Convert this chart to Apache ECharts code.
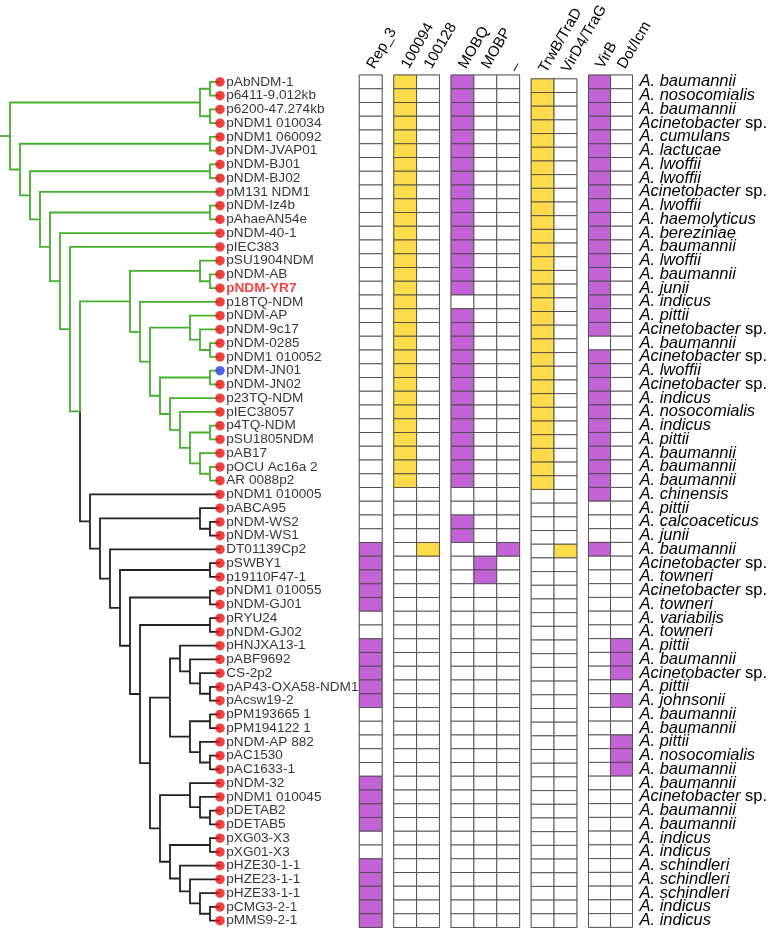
<!DOCTYPE html>
<html><head><meta charset="utf-8">
<script src="https://cdn.jsdelivr.net/npm/echarts@6/dist/echarts.min.js"></script>
<style>html,body{margin:0;padding:0;background:#fff}#c{width:770px;height:929px}</style>
</head><body><div id="c"></div>
<script>
// ---------- data ----------
const tipNames = ['pAbNDM-1','p6411-9.012kb','p6200-47.274kb','pNDM1 010034','pNDM1 060092','pNDM-JVAP01','pNDM-BJ01','pNDM-BJ02','pM131 NDM1','pNDM-Iz4b','pAhaeAN54e','pNDM-40-1','pIEC383','pSU1904NDM','pNDM-AB','pNDM-YR7','p18TQ-NDM','pNDM-AP','pNDM-9c17','pNDM-0285','pNDM1 010052','pNDM-JN01','pNDM-JN02','p23TQ-NDM','pIEC38057','p4TQ-NDM','pSU1805NDM','pAB17','pOCU Ac16a 2','AR 0088p2','pNDM1 010005','pABCA95','pNDM-WS2','pNDM-WS1','DT01139Cp2','pSWBY1','p19110F47-1','pNDM1 010055','pNDM-GJ01','pRYU24','pNDM-GJ02','pHNJXA13-1','pABF9692','CS-2p2','pAP43-OXA58-NDM1','pAcsw19-2','pPM193665 1','pPM194122 1','pNDM-AP 882','pAC1530','pAC1633-1','pNDM-32','pNDM1 010045','pDETAB2','pDETAB5','pXG03-X3','pXG01-X3','pHZE30-1-1','pHZE23-1-1','pHZE33-1-1','pCMG3-2-1','pMMS9-2-1'];
const species = ['A. baumannii','A. nosocomialis','A. baumannii','Acinetobacter sp.','A. cumulans','A. lactucae','A. lwoffii','A. lwoffii','Acinetobacter sp.','A. lwoffii','A. haemolyticus','A. bereziniae','A. baumannii','A. lwoffii','A. baumannii','A. junii','A. indicus','A. pittii','Acinetobacter sp.','A. baumannii','Acinetobacter sp.','A. lwoffii','Acinetobacter sp.','A. indicus','A. nosocomialis','A. indicus','A. pittii','A. baumannii','A. baumannii','A. baumannii','A. chinensis','A. pittii','A. calcoaceticus','A. junii','A. baumannii','Acinetobacter sp.','A. towneri','Acinetobacter sp.','A. towneri','A. variabilis','A. towneri','A. pittii','A. baumannii','Acinetobacter sp.','A. pittii','A. johnsonii','A. baumannii','A. baumannii','A. pittii','A. nosocomialis','A. baumannii','A. baumannii','Acinetobacter sp.','A. baumannii','A. baumannii','A. indicus','A. indicus','A. schindleri','A. schindleri','A. schindleri','A. indicus','A. indicus'];
const highlightTip = 'pNDM-YR7';
const blueTip = 'pNDM-JN01';

// tree topology (tips are row numbers)
const cladeC42 = [42,[43,[44,[45,46]]]];
const cladeB7 = [cladeC42, [[47,48],[49,[50,51]]]];
const cladeC52 = [52,[53,[54,55]]];
const cladeC56 = [[56,57],[58,[59,[60,[61,62]]]]];
const cladeB6 = [cladeB7, [cladeC52, cladeC56]];
const blackClade = [31, [[32,[33,34]], [35, [[36,37], [[38,39], [[40,41], cladeB6]]]]]];
const greenSub = [[14,[15,16]], [17, [[18,[19,[20,21]]], [[22,23], [24, [25, [[26,27], [28,[29,30]]]]]]]]];
const treeRoot = [[[1,2],[3,4]], [[5,6], [[7,8], [9, [[10,11], [12, [13, [greenSub, blackClade]]]]]]]];

// heatmap columns and presence (row numbers)
const columns = ['Rep_3','100094','100128','MOBQ','MOBP','_','TrwB/TraD','VirD4/TraG','VirB','Dot/Icm'];
const columnGroups = [['Rep_3'],['100094','100128'],['MOBQ','MOBP','_'],['TrwB/TraD','VirD4/TraG'],['VirB','Dot/Icm']];
const yellowColumns = ['100094','100128','TrwB/TraD','VirD4/TraG'];
const rowsRep3 = [35,36,37,38,39,42,43,44,45,46,52,53,54,55,58,59,60,61,62];
const rows100094 = [1,2,3,4,5,6,7,8,9,10,11,12,13,14,15,16,17,18,19,20,21,22,23,24,25,26,27,28,29,30];
const rows100128 = [35];
const rowsMOBQ = [1,2,3,4,5,6,7,8,9,10,11,12,13,14,15,16,18,19,20,21,22,23,24,25,26,27,28,29,30,33,34];
const rowsMOBP = [36,37];
const rowsUnderscore = [35];
const rowsTrwB = [1,2,3,4,5,6,7,8,9,10,11,12,13,14,15,16,17,18,19,20,21,22,23,24,25,26,27,28,29,30];
const rowsVirD4 = [35];
const rowsVirB = [1,2,3,4,5,6,7,8,9,10,11,12,13,14,15,16,17,18,19,21,22,23,24,25,26,27,28,29,30,31,35];
const rowsDotIcm = [42,43,44,46,49,50,51];
const presence = {'Rep_3':rowsRep3,'100094':rows100094,'100128':rows100128,'MOBQ':rowsMOBQ,'MOBP':rowsMOBP,'_':rowsUnderscore,'TrwB/TraD':rowsTrwB,'VirD4/TraG':rowsVirD4,'VirB':rowsVirB,'Dot/Icm':rowsDotIcm};

// ---------- style / layout ----------
const FONT = 'Liberation Sans, Arial, sans-serif';
const GREEN = '#44b02c', BLACK = '#222', RED = '#ee1111', BLUE = '#2b3be6';
const YELLOW = '#fedb4a', PURPLE = '#c462d8';
const TOP = 75, HEIGHT = 852.5;
const TREE_W = 220;
const HM_LEFT = 359.3, CELL_W = 22.85, GAP = 11.6;

// ---------- tree layout ----------
const edges = [];
function layout(node, color) {
  if (typeof node === 'number') return {h: 0, y: node - 1, color};
  const kids = node.map(ch => layout(ch, ch === blackClade ? 'black' : color));
  const h = Math.max(...kids.map(k => k.h)) + 1;
  const y = kids.reduce((s, k) => s + k.y, 0) / kids.length;
  kids.forEach(k => edges.push([h, y, k.h, k.y, k.color === 'black' ? 1 : 0]));
  return {h, y, color};
}
const root = layout(treeRoot, 'green');
const xMax = root.h + 1;
edges.push([xMax, root.y, root.h, root.y, 0]);

const nRows = tipNames.length;
const rowCats = tipNames.map((_, i) => String(i));

const grids = [{left: 0, top: TOP, width: TREE_W, height: HEIGHT}];
const xAxes = [{gridIndex: 0, type: 'value', inverse: true, min: 0, max: xMax, show: false}];
const yAxes = [{gridIndex: 0, type: 'value', inverse: true, min: -0.5, max: nRows - 0.5, show: false}];
const series = [
  {
    type: 'custom', xAxisIndex: 0, yAxisIndex: 0, clip: false, silent: true,
    data: edges,
    renderItem: (params, api) => {
      const a = api.coord([api.value(0), api.value(1)]);
      const b = api.coord([api.value(0), api.value(3)]);
      const c = api.coord([api.value(2), api.value(3)]);
      return {type: 'polyline', shape: {points: [a, b, c]},
        style: {stroke: api.value(4) ? BLACK : GREEN, lineWidth: 1.8, fill: null}};
    }
  },
  {
    type: 'scatter', xAxisIndex: 0, yAxisIndex: 0, clip: false, silent: true,
    symbolSize: 9.5,
    label: {show: true, position: 'right', distance: 1.5, formatter: '{b}', fontSize: 13.6, color: '#000', fontFamily: FONT},
    data: tipNames.map((n, i) => ({
      name: n, value: [0, i],
      itemStyle: {color: n === blueTip ? BLUE : RED},
      label: n === highlightTip ? {color: RED, fontWeight: 'bold'} : undefined
    }))
  }
];

let colsBefore = 0;
columnGroups.forEach((grp, g) => {
  const gi = g + 1;
  const left = HM_LEFT + colsBefore * CELL_W + g * GAP;
  colsBefore += grp.length;
  const last = g === columnGroups.length - 1;
  grids.push({left, top: TOP, width: grp.length * CELL_W, height: HEIGHT, show: true, borderColor: '#999', borderWidth: 1});
  xAxes.push({gridIndex: gi, type: 'category', position: 'top', data: grp,
    axisLine: {show: false}, axisTick: {show: false}, splitLine: {show: false},
    axisLabel: {interval: 0, rotate: -60, fontSize: 15, color: '#000', fontFamily: FONT, margin: 7.5, align: 'left', verticalAlign: 'middle'}});
  yAxes.push({gridIndex: gi, type: 'category', inverse: true, data: rowCats, position: 'right',
    show: last, axisLine: {show: false}, axisTick: {show: false}, splitLine: {show: false},
    axisLabel: {interval: 0, margin: 7, fontSize: 16.5, color: '#000', fontFamily: FONT, fontStyle: 'italic',
      formatter: (v, idx) => {
        const s = species[idx];
        if (s.endsWith(' sp.')) return '{i|' + s.slice(0, -4) + '} {n|sp.}';
        return '{i|' + s + '}';
      },
      rich: {i: {fontSize: 16.5, fontStyle: 'italic', fontFamily: FONT, color: '#000'},
             n: {fontSize: 16.5, fontStyle: 'normal', fontFamily: FONT, color: '#000'}}}});
  const data = [];
  grp.forEach((col, c) => {
    const rows = presence[col];
    for (let r = 0; r < nRows; r++) data.push([c, r, rows.includes(r + 1) ? 1 : 0, columns.indexOf(col)]);
  });
  series.push({
    type: 'custom', xAxisIndex: gi, yAxisIndex: gi, silent: true, data,
    renderItem: (params, api) => {
      const p = api.coord([api.value(0), api.value(1)]);
      const s = api.size([1, 1]);
      const col = columns[api.value(3)];
      const fill = api.value(2) ? (yellowColumns.includes(col) ? YELLOW : PURPLE) : '#fff';
      return {type: 'rect', shape: {x: p[0] - s[0] / 2, y: p[1] - s[1] / 2, width: s[0], height: s[1]},
        style: {fill, stroke: '#4a4a4a', lineWidth: 0.9}};
    }
  });
});

const chart = echarts.init(document.getElementById('c'), null, {renderer: 'canvas'});
chart.setOption({
  animation: false,
  backgroundColor: '#fff',
  textStyle: {fontFamily: FONT},
  grid: grids, xAxis: xAxes, yAxis: yAxes, series
});
</script></body></html>
